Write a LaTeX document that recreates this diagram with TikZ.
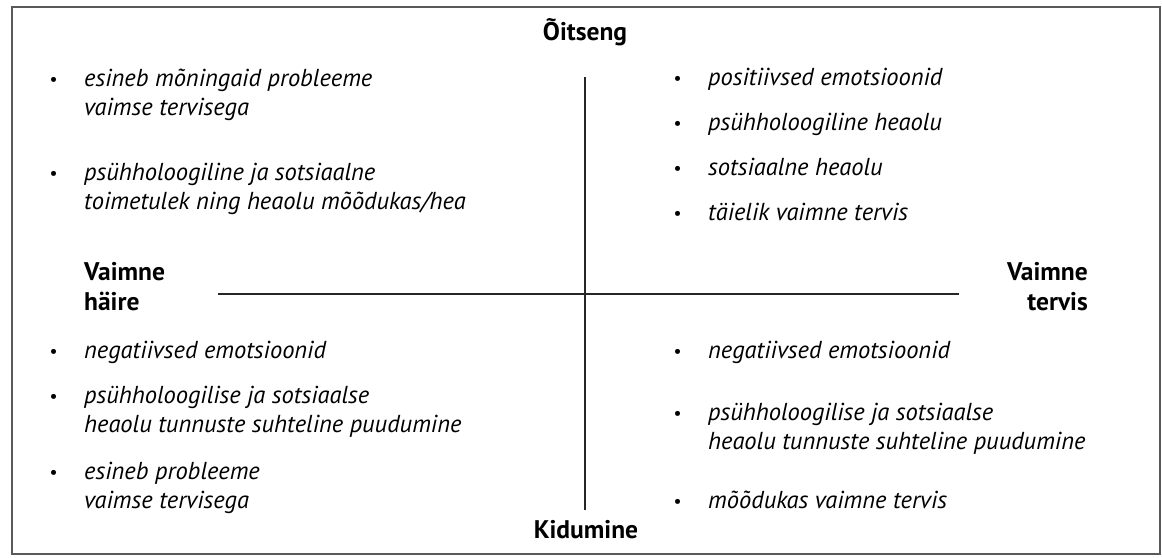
\documentclass[tikz,border=0pt]{standalone}
\usepackage{fontspec}
\setmainfont{PT Sans}
\usepackage{xcolor}
\usetikzlibrary{positioning}

\newcommand{\bul}{\llap{\raisebox{0.5pt}{\fontsize{18}{18}\selectfont\textbullet}\hspace{27pt}}}

\begin{document}
\begin{tikzpicture}[x=1pt,y=-1pt]
            % Styles
            \tikzstyle{axis} = [draw=black!85, line width=2pt]
            \tikzstyle{pole} = [inner sep=0pt, font=\fontsize{25.5}{30}\selectfont\bfseries, text=black]
            \tikzstyle{point} = [inner sep=0pt, align=left, anchor=base west, font=\fontsize{24.5}{29}\selectfont\itshape, text=black]

            \useasboundingbox (0,0) rectangle (1162,557);

            % Frame
            \draw[black!65, line width=2pt] (12,7) rectangle (1160,554);

            % Axis ends
            \coordinate (top) at (585,77);
            \coordinate (bottom) at (585,510);
            \coordinate (left) at (218,294);
            \coordinate (right) at (959,294);

            % Poles (multi-line nodes sit on their last line)
            \node[pole, anchor=base] (oitseng) at (585,40) {Õitseng};
            \node[pole, anchor=base] (kidumine) at (586,538) {Kidumine};
            \node[pole, anchor=base west, align=left] (haire) at (84,310) {Vaimne\\häire};
            \node[pole, anchor=base east, align=right] (tervis) at (1088,310) {Vaimne\\tervis};

            % Axes
            \draw[axis] (top) -- (bottom);
            \draw[axis] (left) -- (right);

            % Top left
            \node[point] (tl1) at (84,115) {\bul esineb mõningaid probleeme\\vaimse tervisega};
            \node[point] (tl2) at (84,209) {\bul psühholoogiline ja sotsiaalne\\toimetulek ning heaolu mõõdukas/hea};

            % Top right
            \node[point] (tr1) at (708,85) {\bul positiivsed emotsioonid};
            \node[point] (tr2) at (708,130) {\bul psühholoogiline heaolu};
            \node[point] (tr3) at (708,175) {\bul sotsiaalne heaolu};
            \node[point] (tr4) at (708,220) {\bul täielik vaimne tervis};

            % Bottom left
            \node[point] (bl1) at (84,358) {\bul negatiivsed emotsioonid};
            \node[point] (bl2) at (84,432) {\bul psühholoogilise ja sotsiaalse\\heaolu tunnuste suhteline puudumine};
            \node[point] (bl3) at (84,508) {\bul esineb probleeme\\vaimse tervisega};

            % Bottom right
            \node[point] (br1) at (708,358) {\bul negatiivsed emotsioonid};
            \node[point] (br2) at (708,449) {\bul psühholoogilise ja sotsiaalse\\heaolu tunnuste suhteline puudumine};
            \node[point] (br3) at (708,508) {\bul mõõdukas vaimne tervis};
        \end{tikzpicture}
\end{document}
